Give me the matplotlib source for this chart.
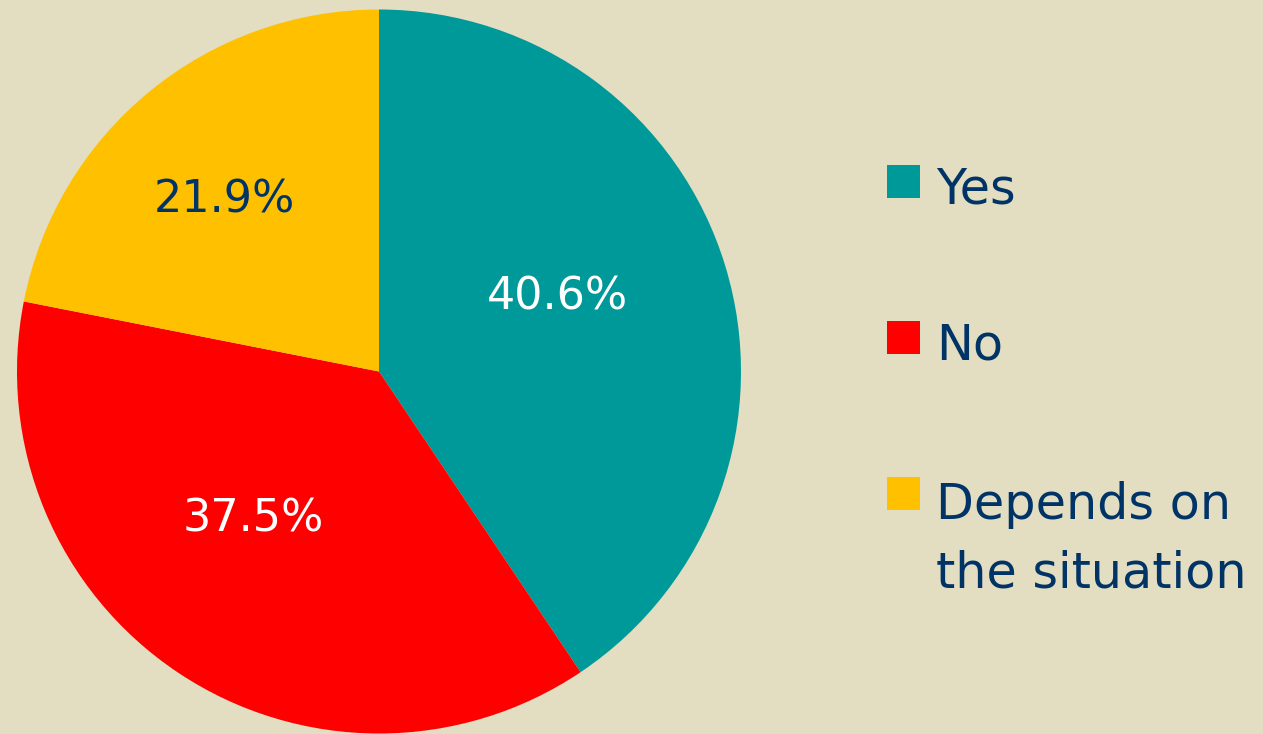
import matplotlib
matplotlib.use('Agg')
import matplotlib.pyplot as plt
from matplotlib.patches import Rectangle

# data
labels = ['Yes', 'No', 'Depends on\nthe situation']
values = [40.6, 37.5, 21.9]
colors = ['#009999', '#FF0000', '#FFC000']
pct_colors = ['white', 'white', '#003366']
# where each percentage sits inside its wedge (x, y in pie units)
pct_pos = [(0.494, 0.206), (-0.348, -0.407), (-0.428, 0.474)]

bg = '#E3DEC1'
navy = '#003366'
plt.rcParams['font.family'] = ['DejaVu Sans']

W, H = 1263, 734
fig = plt.figure(figsize=(W / 100, H / 100), dpi=100, facecolor=bg)

# pie axes - center (379, 371.5), radius 362 px
cx, cy, r = 379, 371.5, 362
ax = fig.add_axes([(cx - r) / W, (H - cy - r) / H, 2 * r / W, 2 * r / H])
ax.set_facecolor(bg)
wedges, texts, autotexts = ax.pie(values, colors=colors, startangle=90, counterclock=False,
                                  autopct='%.1f%%', radius=1.0,
                                  wedgeprops=dict(linewidth=0),
                                  textprops=dict(fontsize=32))
for t, c, p in zip(autotexts, pct_colors, pct_pos):
    t.set_color(c)
    t.set_position(p)
ax.set_xlim(-1, 1)
ax.set_ylim(-1, 1)
ax.set_aspect('equal')
ax.axis('off')

# legend drawn by hand in pixel coordinates
lax = fig.add_axes([0, 0, 1, 1])
lax.set_xlim(0, W)
lax.set_ylim(H, 0)
lax.axis('off')
box = 33
tops = [165, 321, 477]
line_gap = 72
for lab, col, top in zip(labels, colors, tops):
    lax.add_patch(Rectangle((887, top), box, box, facecolor=col, edgecolor='none'))
    # va='baseline' sits on the last line, so push multi-line labels down
    nlines = lab.count('\n') + 1
    lax.text(936, top + 38 + (nlines - 1) * line_gap, lab, fontsize=35.5, color=navy,
             va='baseline', ha='left', linespacing=1.52)

fig.savefig('out.png', dpi=100, facecolor=bg)
